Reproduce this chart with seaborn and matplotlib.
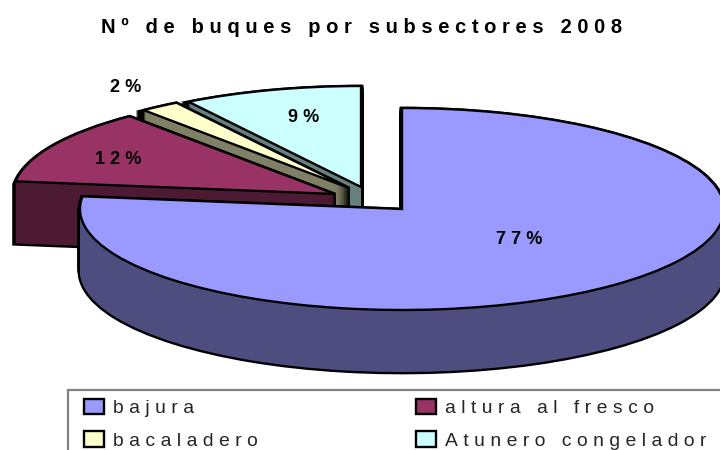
import seaborn as sns
from matplotlib import pyplot as plt
from matplotlib.patches import Rectangle

W, H = 720, 450

title = "Nº de buques por subsectores 2008"
subsectors = ["bajura", "altura al fresco", "bacaladero", "Atunero congelador"]
shares = [77, 12, 2, 9]

top_colors = ["#9999FF", "#993366", "#FFFFCC", "#CCFFFF"]
side_colors = ["#4D4D80", "#4D1A33", "#808066", "#668080"]

# apex of each slice in pixels, the pie is exploded by hand
apex = [(402, 209), (335, 194), (349, 188), (361, 187)]
label_pos = [(519, 239), (118, 159), (126, 87), (304, 117)]
layer_order = [40, 30, 20, 10]

RX, RY = 322, 101
DEPTH = 62
SP = "\u2009\u200a"


def spaced(s):
    return SP.join(s)


def to_fig(x, y):
    return x / W, 1 - y / H


def pie_layer(ax, colors, depth, lw, edge, z):
    wedges, _ = ax.pie(shares, startangle=90, counterclock=False, colors=colors,
                       wedgeprops={"linewidth": lw, "edgecolor": edge})
    for i, w in enumerate(wedges):
        w.set_center(((apex[i][0] - 401) / RX, (209 - apex[i][1] - depth) / RY))
        w.set_zorder(layer_order[i] + z)
    return wedges


sns.set_style("white")
plt.rcParams["font.family"] = ["Liberation Sans", "DejaVu Sans"]

fig = plt.figure(figsize=(W / 100, H / 100), dpi=100)
ax = fig.add_axes([0, 0, 1, 1])

# side walls: black silhouette first, then the dark fill over it
for d in range(DEPTH, 0, -1):
    pie_layer(ax, side_colors, d, 3.4, "black", 0)
for d in range(DEPTH, 0, -1):
    pie_layer(ax, side_colors, d, 0, "none", 1)
tops = pie_layer(ax, top_colors, 0, 1.7, "black", 2)

ax.set_aspect("auto")
ax.set_xlim(-401 / RX, (W - 401) / RX)
ax.set_ylim((209 - H) / RY, 209 / RY)
ax.set_axis_off()

fig.text(*to_fig(362, 27.5), spaced(title), fontsize=14.5, fontweight="bold",
         ha="center", va="center", color="black")

for v, (x, y) in zip(shares, label_pos):
    fig.text(*to_fig(x, y), spaced(f"{v}%"), fontsize=13, fontweight="bold",
             ha="center", va="center", color="black")

# legend box runs off the right and bottom of the picture
x0, y1 = to_fig(68, 390)
fig.add_artist(Rectangle((x0, -0.05), 1.05 - x0, y1 + 0.05, transform=fig.transFigure,
                         facecolor="white", edgecolor="#808080", linewidth=1.6))

# column-first fill, so bacaladero sits under bajura
order = [0, 2, 1, 3]
leg = fig.legend([tops[i] for i in order], [spaced(subsectors[i]) for i in order],
                 ncol=2, loc="upper left", bbox_to_anchor=to_fig(84, 399),
                 bbox_transform=fig.transFigure, fontsize=13.9, frameon=False,
                 borderaxespad=0, borderpad=0,
                 handlelength=1.04, handleheight=0.85, handletextpad=0.47,
                 labelspacing=0.72, columnspacing=8.2)

fig.savefig("out.png", dpi=100)
